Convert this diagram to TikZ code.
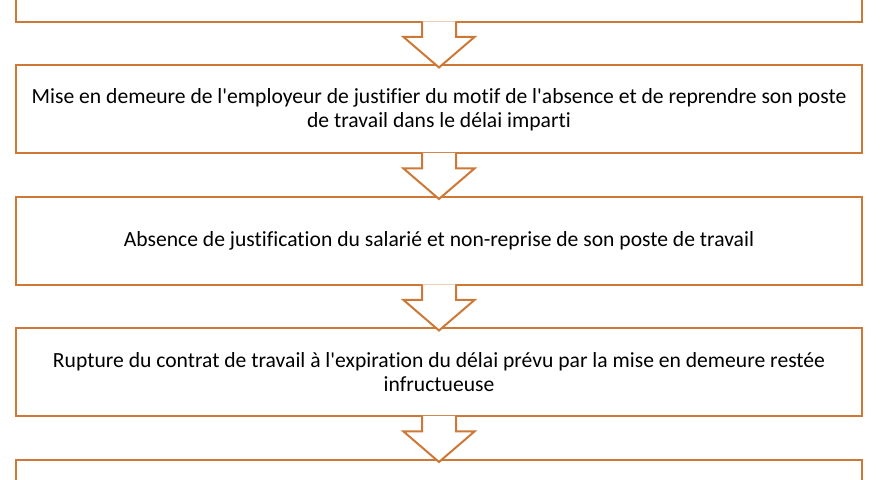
\documentclass[tikz,border=0pt]{standalone}
\usepackage{fontspec}
\setmainfont{Carlito}[RawFeature=-liga]
\usepackage{tikz}
\usetikzlibrary{positioning,calc}

\definecolor{orangeword}{RGB}{205,120,55}

\tikzset{
  etape/.style={draw=orangeword, line width=1pt, fill=white, rectangle,
    minimum width=423pt, minimum height=44pt, text width=412.5pt,
    align=flush center, inner sep=0pt, font=\fontsize{10.8}{12}\selectfont},
  fleche/.style={draw=orangeword, line width=1pt, fill=white, line join=miter}
}

\begin{document}
\begin{tikzpicture}[x=0.5pt, y=0.5pt, node distance=20.75pt]
  \useasboundingbox (0,0) rectangle (880,480);
  \node[etape] (e1) at (439,502) {};
  \node[etape, below=of e1] (e2) {Mise en demeure de l\textquotesingle employeur de justifier du motif de l\textquotesingle absence et de reprendre son poste de travail dans le délai imparti};
  \node[etape, below=of e2] (e3) {Absence de justification du salarié et non-reprise de son poste de travail};
  \node[etape, below=of e3] (e4) {Rupture du contrat de travail à l\textquotesingle expiration du délai prévu par la mise en demeure restée infructueuse};
  \node[etape, below=of e4] (e5) {};
  % fleches creuses entre les etapes
  \foreach \a/\b in {e1/e2,e2/e3,e3/e4,e4/e5}
    \draw[fleche] ($(\a.south)+(-17,1.5)$) |- ($(\a.south)+(-35.5,-14)$)
      -- ($(\b.north)+(0,-3)$) -- ($(\a.south)+(35.5,-14)$) -| ($(\a.south)+(17,1.5)$);
\end{tikzpicture}
\end{document}
